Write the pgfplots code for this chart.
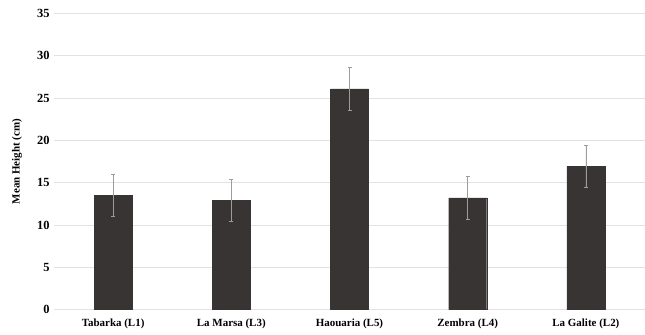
\documentclass[border=0pt]{standalone}
\usepackage{fontspec}
\setmainfont{Liberation Serif}
\usepackage{pgfplots}
\pgfplotsset{compat=1.18}
\definecolor{barfill}{HTML}{383434}
\definecolor{gridc}{HTML}{E2E2E2}
\definecolor{errc}{HTML}{9C9C9C}

\begin{document}
\begin{tikzpicture}
\useasboundingbox (-54bp,-25.5bp) rectangle (591bp,309.5bp);
\begin{axis}[
  at={(0,0)}, anchor=south west,
  scale only axis, width=591bp, height=296bp,
  ymin=0, ymax=35, ytick={0,5,...,35},
  xmin=-0.5, xmax=4.5, xtick={0,1,2,3,4},
  xticklabels={Tabarka (L1), La Marsa (L3), Haouaria (L5), Zembra (L4), La Galite (L2)},
  ybar, bar width=38bp,
  ymajorgrids, grid style={gridc, line width=0.8pt},
  axis lines*=left,
  y axis line style={draw=none},
  x axis line style={gridc, line width=0.8pt},
  tick style={draw=none},
  /pgf/number format/assume math mode=true,
  yticklabel style={font=\bfseries\fontsize{12.5}{13}\selectfont, xshift=-1bp},
  xticklabel style={font=\bfseries\fontsize{11}{12}\selectfont, yshift=-2bp},
  every axis y label/.style={at={(axis description cs:0,0.5)}, xshift=-37bp, rotate=90, anchor=center,
    font=\bfseries\fontsize{11}{12}\selectfont},
  ylabel={Mean Height (cm)},
]
\addplot[fill=barfill, draw=barfill,
  error bars/.cd, y dir=both, y explicit,
  error bar style={errc, line width=0.6pt},
  error mark options={errc, line width=0.6pt, mark size=2bp, rotate=90}]
coordinates {
  (0,13.5) +- (0,2.5)
  (1,12.9) +- (0,2.5)
  (2,26.1) +- (0,2.5)
  (3,13.2) +- (0,2.5)
  (4,16.9) +- (0,2.5)
};
\end{axis}
\end{tikzpicture}
\end{document}
